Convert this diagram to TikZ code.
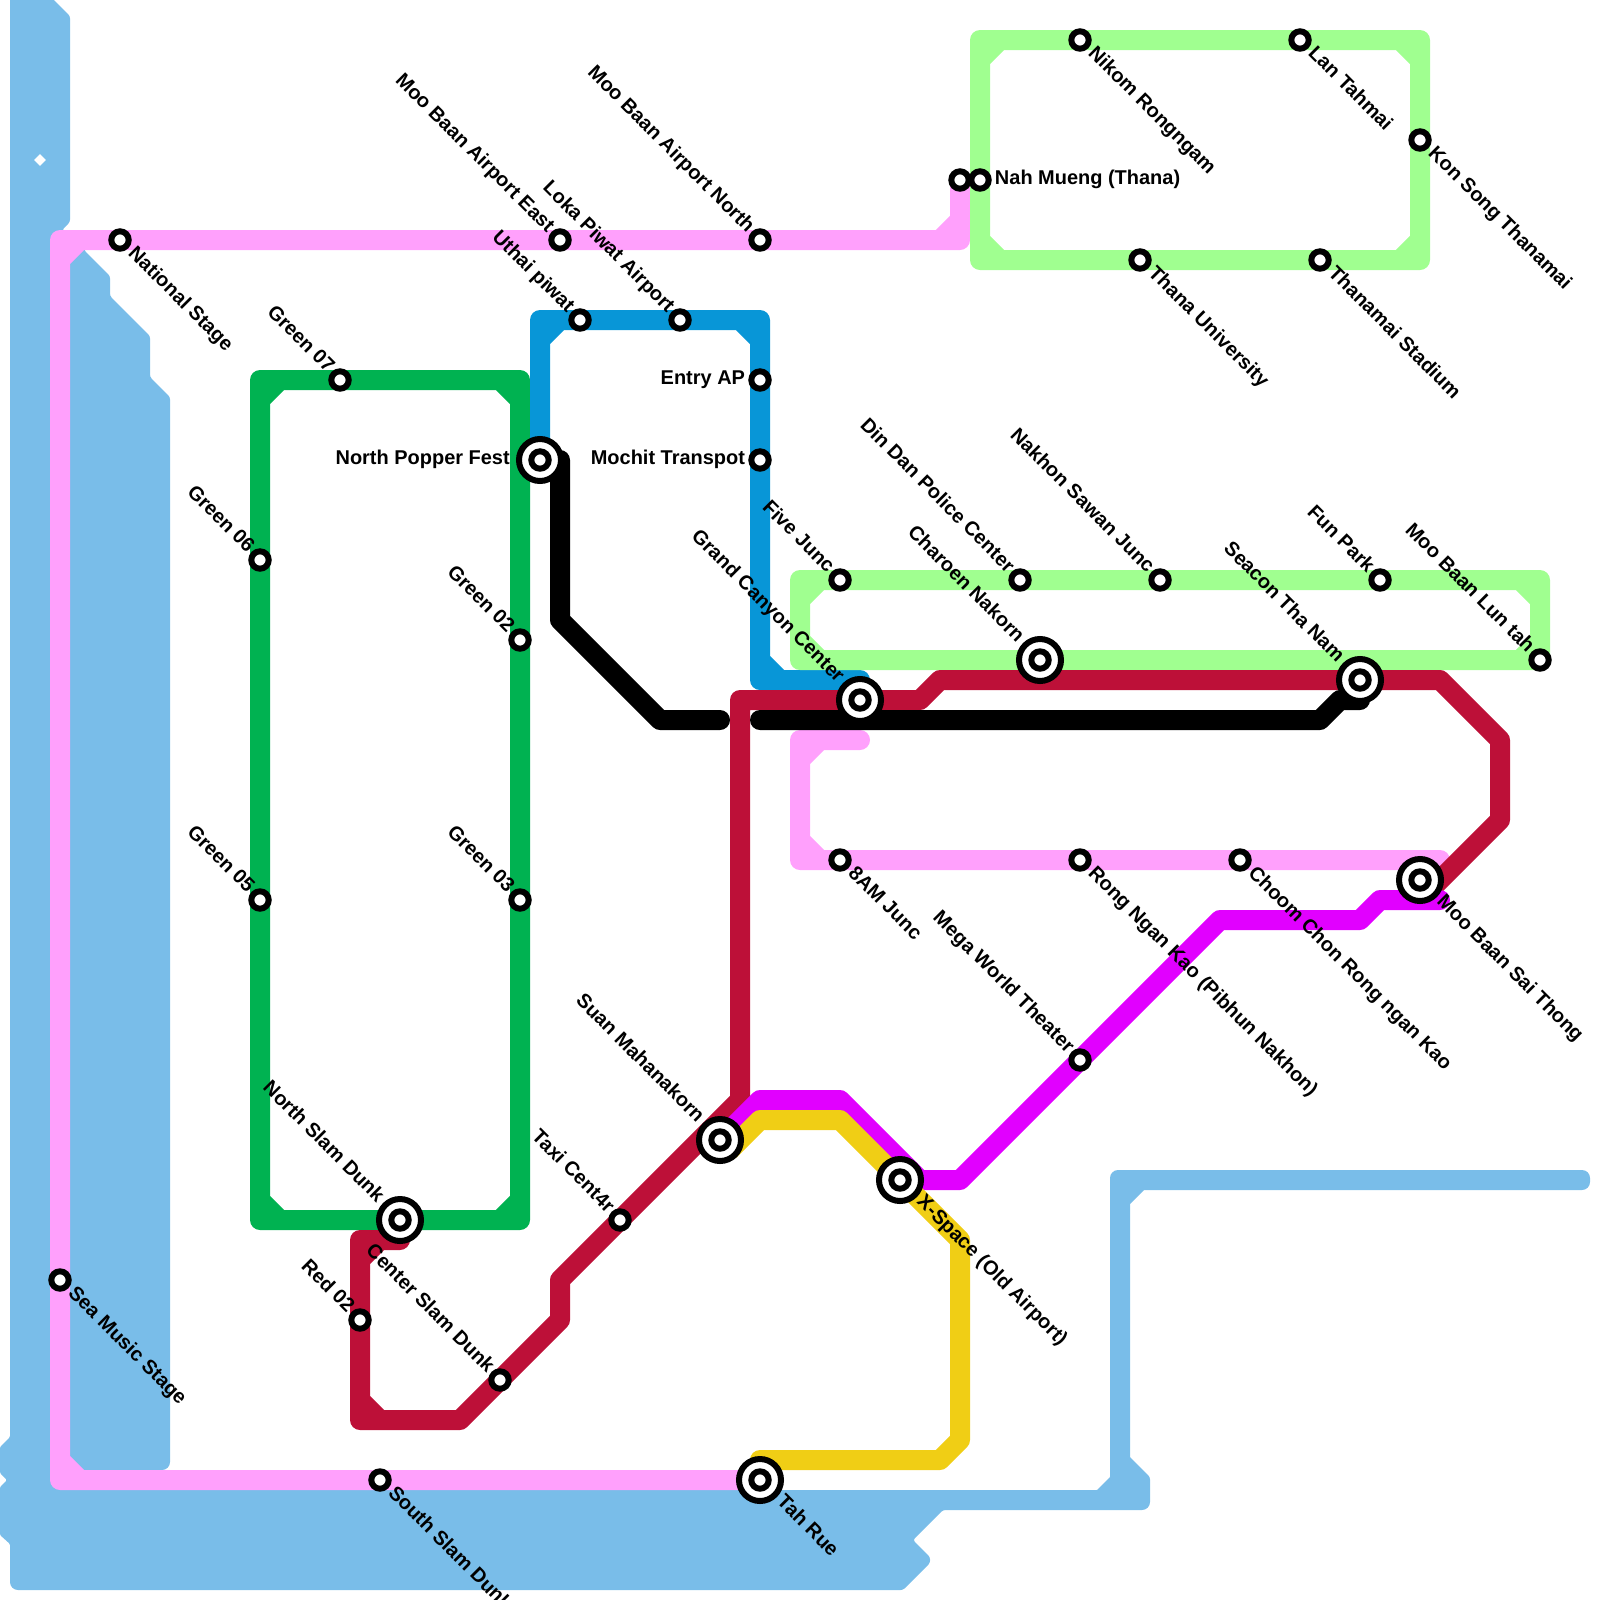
\documentclass[tikz,border=0pt]{standalone}
\usepackage{fontspec}
\setmainfont{Liberation Sans}
\usetikzlibrary{backgrounds}
\definecolor{watercol}{HTML}{79BDE9}
\definecolor{pinkcol}{HTML}{FFA0FC}
\definecolor{greencol}{HTML}{00B251}
\definecolor{bluecol}{HTML}{0896D7}
\definecolor{limecol}{HTML}{A0FF90}
\definecolor{redcol}{HTML}{BD1038}
\definecolor{purplecol}{HTML}{E100FF}
\definecolor{yellowcol}{HTML}{F0CE15}

\begin{document}
\begin{tikzpicture}[
  x=5mm, y=-5mm,
  font=\bfseries\fontsize{14.2}{14.2}\selectfont,
  stn/.style={
    circle,
    draw,
    fill=white,
    line width=1.5mm,
    minimum size=4.35mm,
    inner sep=0pt
  },
  bigstn/.style={
    stn,
    minimum size=10.5mm,
    path picture={\draw[line width=1.5mm] (path picture bounding box.center) circle (2.175mm);}
  },
  lbl/.style={inner sep=.5mm, text height=3.6mm, text depth=1.2mm},
  selbl/.style={lbl, rotate=-45, anchor=west, inner sep=.85mm},
  nwlbl/.style={lbl, rotate=-45, anchor=east},
  bignwlbl/.style={nwlbl, inner sep=1mm},
  leftlbl/.style={lbl, anchor=east, inner sep=.75mm},
  bigleftlbl/.style={leftlbl, inner sep=1.5mm},
  rightlbl/.style={lbl, anchor=west, inner sep=.75mm},
  metro/.style={line width=5mm, line cap=round, line join=round}
]
\useasboundingbox (0,0) rectangle (80,80);

\node[stn, label={[selbl]-45:National Stage}] (national) at (6,12) {};
\node[stn, label={[selbl]-45:Sea Music Stage}] (seamusic) at (3,64) {};
\node[stn, label={[selbl]-45:South Slam Dunk}] (southslam) at (19,74) {};
\node[bigstn, label={[selbl]-45:Tah Rue}] (tahrue) at (38,74) {};

\node[stn, label={[nwlbl]135:Green 07}] (green07) at (17,19) {};
\node[stn, label={[nwlbl]135:Green 06}] (green06) at (13,28) {};
\node[stn, label={[nwlbl]135:Green 05}] (green05) at (13,45) {};
\node[stn, label={[nwlbl]135:Green 02}] (green02) at (26,32) {};
\node[stn, label={[nwlbl]135:Green 03}] (green03) at (26,45) {};
\node[bigstn, label={[bignwlbl]135:North Slam Dunk}] (northslam) at (20,61) {};

\node[stn, label={[nwlbl]135:Center Slam Dunk}] (centerslam) at (25,69) {};
\node[stn, label={[nwlbl]135:Red 02}] (red02) at (18,66) {};
\node[stn, label={[nwlbl]135:Taxi Cent4r}] (taxi) at (31,61) {};
\node[bigstn, label={[bignwlbl]135:Suan Mahanakorn}] (suan) at (36,57) {};

\node[bigstn, label={[bigleftlbl]180:North Popper Fest}] (popper) at (27,23) {};
\node[stn, label={[nwlbl]135:Uthai piwat}] (uthai) at (29,16) {};
\node[stn, label={[nwlbl]135:Loka Piwat Airport}] (loka) at (34,16) {};
\node[stn, label={[nwlbl]135:Moo Baan Airport East}] (airporteast) at (28,12) {};
\node[stn, label={[nwlbl]135:Moo Baan Airport North}] (airportnorth) at (38,12) {};
\node[stn, label={[leftlbl]180:Entry AP}] (entry) at (38,19) {};
\node[stn, label={[leftlbl]180:Mochit Transpot}] (mochit) at (38,23) {};

\node[stn, label={[nwlbl]135:Five Junc}] (fivejunc) at (42,29) {};
\node[bigstn, label={[bignwlbl]135:Grand Canyon Center}] (grand) at (43,35) {};
\node[stn, label={[nwlbl]135:Din Dan Police Center}] (dindan) at (51,29) {};
\node[bigstn, label={[bignwlbl]135:Charoen Nakorn}] (charoen) at (52,33) {};
\node[stn, label={[nwlbl]135:Nakhon Sawan Junc}] (nakhon) at (58,29) {};
\node[bigstn, label={[bignwlbl]135:Seacon Tha Nam}] (seacon) at (68,34) {};
\node[stn, label={[nwlbl]135:Fun Park}] (funpark) at (69,29) {};
\node[stn, label={[nwlbl]135:Moo Baan Lun tah}] (luntah) at (77,33) {};

\node[stn, label={[selbl]-45:8AM Junc}] (eightam) at (42,43) {};
\node[stn, label={[selbl]-45:Rong Ngan Kao (Pibhun Nakhon)}] (rongngan) at (54,43) {};
\node[stn, label={[selbl]-45:Choom Chon Rong ngan Kao}] (choom) at (62,43) {};
\node[bigstn, label={[selbl]-45:Moo Baan Sai Thong}] (saithong) at (71,44) {};
\node[stn, label={[nwlbl]135:Mega World Theater}] (megaworld) at (54,53) {};
\node[bigstn, label={[selbl]-45:X-Space (Old Airport)}] (xspace) at (45,59) {};

\node[stn] (nahpink) at (48,9) {};
\node[stn, label={[rightlbl]0:Nah Mueng (Thana)}] (nahmueng) at (49,9) {};
\node[stn, label={[selbl]-45:Nikom Rongngam}] (nikom) at (54,2) {};
\node[stn, label={[selbl]-45:Lan Tahmai}] (lantahmai) at (65,2) {};
\node[stn, label={[selbl]-45:Kon Song Thanamai}] (konsong) at (71,7) {};
\node[stn, label={[selbl]-45:Thana University}] (thanauni) at (57,13) {};
\node[stn, label={[selbl]-45:Thanamai Stadium}] (thanamai) at (66,13) {};

\coordinate (blueend) at (43,34);
\coordinate (pinkend) at (43,37);
\coordinate (pinkright) at (72,43);
\coordinate (redstart) at (20,62);
\coordinate (redend) at (71.5,44.5);
\coordinate (purpleend) at (72,45);
\coordinate (yellowstart) at (36.5,57.5);
\coordinate (yellowend) at (38,73);
\coordinate (blackstart) at (28,23);
\coordinate (blackgap) at (36,36);
\coordinate (blackrestart) at (38,36);
\coordinate (blackend) at (68,35);

\begin{scope}[on background layer]
\fill[watercol, rounded corners=.6mm] (0.5,-1) -- (1.7,-1) -- (3.5,0.8) -- (3.5,11.1) -- (3.1,11.5) -- (4.2,12) -- (4.2,12.5)
  -- (5.5,13.8) -- (5.5,14.8) -- (7.5,16.8) -- (7.5,18.85) -- (8.5,19.85)
  [rounded corners=2mm] -- (8.5,73.5) [rounded corners=.1mm] -- (4,73.5) -- (4,74.5) -- (54.85,74.5) -- (55.5,73.85)
  [rounded corners=2mm] -- (55.5,58.5) -- (79.5,58.5) -- (79.5,59.5) [rounded corners=.1mm] -- (57.2,59.5) -- (56.5,60.2)
  -- (56.5,72.85) [rounded corners=.6mm] -- (57.5,73.85) [rounded corners=2mm] -- (57.5,75.5) [rounded corners=.6mm] -- (47.15,75.5)
  -- (45.65,77) -- (46.5,77.85) -- (46.5,78.15) -- (45.15,79.5) [rounded corners=2mm] -- (0.5,79.5) [rounded corners=.3mm] -- (0.5,77.2)
  -- (0,76.75) -- (0,74.35) -- (0.35,74) -- (0,73.65) -- (0,72.35) -- (0.5,71.85) -- cycle;
\fill[white] (2,7.7) -- (2.29,8) -- (2,8.29) -- (1.71,8) -- cycle;

\draw[metro, pinkcol] (nahpink.center) -- (48,12) -- (3,12) -- (3,74) -- (tahrue.center)
  (48,11) -- (47,12) (3,13) -- (4,12) (3,73) -- (4,74);
\draw[metro, pinkcol] (pinkend) -- (40,37) -- (40,43) -- (pinkright)
  (40,38) -- (41,37) (40,42) -- (41,43);
\draw[metro, greencol] (13,19) -- (26,19) -- (26,61) -- (13,61) -- cycle
  (13,20) -- (14,19) (25,19) -- (26,20) (26,60) -- (25,61) (14,61) -- (13,60);
\draw[metro, bluecol] (popper.center) -- (27,16) -- (38,16) -- (38,34) -- (blueend)
  (27,17) -- (28,16) (37,16) -- (38,17) (38,33) -- (39,34);
\draw[metro, limecol] (49,2) -- (71,2) -- (71,13) -- (49,13) -- cycle
  (49,3) -- (50,2) (70,2) -- (71,3) (71,12) -- (70,13) (50,13) -- (49,12);
\draw[metro, limecol] (40,29) -- (77,29) -- (77,33) -- (40,33) -- cycle
  (40,30) -- (41,29) (76,29) -- (77,30) (77,32) -- (76,33) (41,33) -- (40,32);
\draw[metro, redcol] (redstart) -- (18,62) -- (18,71) -- (23,71) -- (28,66) -- (28,64) -- (37,55) -- (37,35)
  -- (46,35) -- (47,34) -- (72,34) -- (75,37) -- (75,41) -- (redend)
  (18,63) -- (19,62) (18,70) -- (19,71);
\draw[metro, purplecol] (suan.center) -- (38,55) -- (42,55) -- (46,59) -- (48,59) -- (61,46) -- (68,46) -- (69,45) -- (purpleend);
\draw[metro, yellowcol] (yellowstart) -- (38,56) -- (42,56) -- (48,62) -- (48,72) -- (47,73) -- (yellowend);
\draw[metro, black] (blackstart) -- (28,31) -- (33,36) -- (blackgap);
\draw[metro, black] (blackrestart) -- (66,36) -- (67,35) -- (blackend);
\end{scope}

\end{tikzpicture}
\end{document}
